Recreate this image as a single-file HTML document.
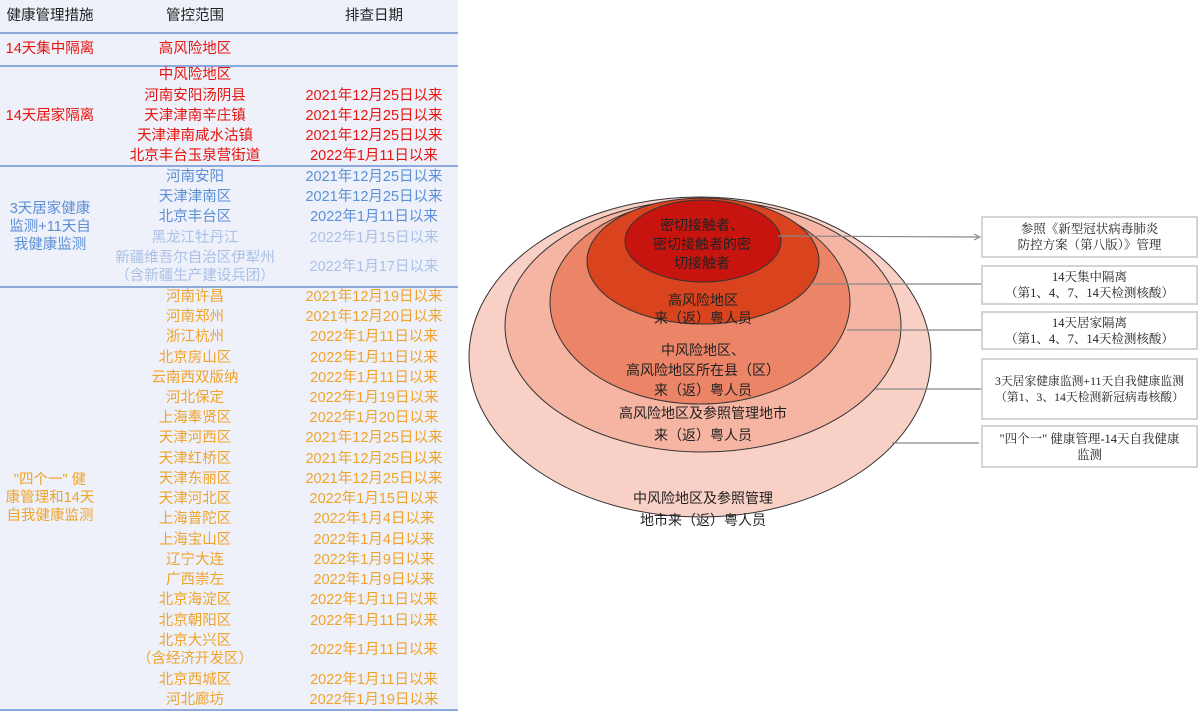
<!DOCTYPE html>
<html><head><meta charset="utf-8">
<style>
*{margin:0;padding:0;box-sizing:border-box}
html,body{width:1200px;height:711px;overflow:hidden;background:#fff}
body{position:relative;font-family:"Liberation Sans","Noto Sans CJK SC",sans-serif}
#panel{position:absolute;left:0;top:0;width:458px;height:711px;background:#eef1fa}
.hl{position:absolute;left:0;width:458px;height:1.5px;background:#8eaadb}
.t{position:absolute;white-space:nowrap;font-size:14.5px;line-height:20px;transform:translate(-50%,-50%)}
.c1{left:50px}.c2{left:195px}.c3{left:374px}
.h{color:#222}.r{color:#e8140f}.b{color:#5b8fd6}.lb{color:#aac0e6}.o{color:#f0a32a}
.box{position:absolute;left:981px;width:217px;border:2px solid #d4d4d4;background:#fff;font-family:"Liberation Serif","Noto Serif CJK SC",serif;font-size:12.5px;line-height:16px;color:#222;text-align:center;display:flex;align-items:center;justify-content:center}
svg text{font-family:"Liberation Sans","Noto Sans CJK SC",sans-serif;font-size:14px;fill:#222;text-anchor:middle}
</style></head><body>
<div id="panel"></div>
<div class="hl" style="top:32px"></div>
<div class="hl" style="top:65px"></div>
<div class="hl" style="top:165px"></div>
<div class="hl" style="top:286px"></div>
<div class="hl" style="top:709px"></div>

<div class="t c1 h" style="top:16px">健康管理措施</div>
<div class="t c2 h" style="top:16px">管控范围</div>
<div class="t c3 h" style="top:16px">排查日期</div>

<div class="t c1 r" style="top:49px">14天集中隔离</div>
<div class="t c2 r" style="top:49px">高风险地区</div>

<div class="t c1 r" style="top:116px">14天居家隔离</div>
<div class="t c2 r" style="top:75px">中风险地区</div>
<div class="t c2 r" style="top:96px">河南安阳汤阴县</div>
<div class="t c2 r" style="top:116px">天津津南辛庄镇</div>
<div class="t c2 r" style="top:136px">天津津南咸水沽镇</div>
<div class="t c2 r" style="top:156px">北京丰台玉泉营街道</div>
<div class="t c3 r" style="top:96px">2021年12月25日以来</div>
<div class="t c3 r" style="top:116px">2021年12月25日以来</div>
<div class="t c3 r" style="top:136px">2021年12月25日以来</div>
<div class="t c3 r" style="top:156px">2022年1月11日以来</div>

<div class="t c1 b" style="top:227px;line-height:18px;text-align:center">3天居家健康<br>监测+11天自<br>我健康监测</div>
<div class="t c2 b" style="top:177px">河南安阳</div>
<div class="t c2 b" style="top:197px">天津津南区</div>
<div class="t c2 b" style="top:217px">北京丰台区</div>
<div class="t c2 lb" style="top:238px">黑龙江牡丹江</div>
<div class="t c2 lb" style="top:267px;line-height:18px;text-align:center">新疆维吾尔自治区伊犁州<br>（含新疆生产建设兵团）</div>
<div class="t c3 b" style="top:177px">2021年12月25日以来</div>
<div class="t c3 b" style="top:197px">2021年12月25日以来</div>
<div class="t c3 b" style="top:217px">2022年1月11日以来</div>
<div class="t c3 lb" style="top:238px">2022年1月15日以来</div>
<div class="t c3 lb" style="top:267px">2022年1月17日以来</div>

<div class="t c1 o" style="top:498px;line-height:18px;text-align:center">"四个一" 健<br>康管理和14天<br>自我健康监测</div>
<div class="t c2 o" style="top:297px">河南许昌</div><div class="t c3 o" style="top:297px">2021年12月19日以来</div>
<div class="t c2 o" style="top:317px">河南郑州</div><div class="t c3 o" style="top:317px">2021年12月20日以来</div>
<div class="t c2 o" style="top:337px">浙江杭州</div><div class="t c3 o" style="top:337px">2022年1月11日以来</div>
<div class="t c2 o" style="top:358px">北京房山区</div><div class="t c3 o" style="top:358px">2022年1月11日以来</div>
<div class="t c2 o" style="top:378px">云南西双版纳</div><div class="t c3 o" style="top:378px">2022年1月11日以来</div>
<div class="t c2 o" style="top:398px">河北保定</div><div class="t c3 o" style="top:398px">2022年1月19日以来</div>
<div class="t c2 o" style="top:418px">上海奉贤区</div><div class="t c3 o" style="top:418px">2022年1月20日以来</div>
<div class="t c2 o" style="top:438px">天津河西区</div><div class="t c3 o" style="top:438px">2021年12月25日以来</div>
<div class="t c2 o" style="top:459px">天津红桥区</div><div class="t c3 o" style="top:459px">2021年12月25日以来</div>
<div class="t c2 o" style="top:479px">天津东丽区</div><div class="t c3 o" style="top:479px">2021年12月25日以来</div>
<div class="t c2 o" style="top:499px">天津河北区</div><div class="t c3 o" style="top:499px">2022年1月15日以来</div>
<div class="t c2 o" style="top:519px">上海普陀区</div><div class="t c3 o" style="top:519px">2022年1月4日以来</div>
<div class="t c2 o" style="top:540px">上海宝山区</div><div class="t c3 o" style="top:540px">2022年1月4日以来</div>
<div class="t c2 o" style="top:560px">辽宁大连</div><div class="t c3 o" style="top:560px">2022年1月9日以来</div>
<div class="t c2 o" style="top:580px">广西崇左</div><div class="t c3 o" style="top:580px">2022年1月9日以来</div>
<div class="t c2 o" style="top:600px">北京海淀区</div><div class="t c3 o" style="top:600px">2022年1月11日以来</div>
<div class="t c2 o" style="top:621px">北京朝阳区</div><div class="t c3 o" style="top:621px">2022年1月11日以来</div>
<div class="t c2 o" style="top:650px;line-height:18px;text-align:center">北京大兴区<br>（含经济开发区）</div><div class="t c3 o" style="top:650px">2022年1月11日以来</div>
<div class="t c2 o" style="top:680px">北京西城区</div><div class="t c3 o" style="top:680px">2022年1月11日以来</div>
<div class="t c2 o" style="top:700px">河北廊坊</div><div class="t c3 o" style="top:700px">2022年1月19日以来</div>

<svg width="1200" height="711" style="position:absolute;left:0;top:0">
<ellipse cx="700" cy="357" rx="231" ry="160" fill="#f9d0c5" stroke="#333" stroke-width="1"/>
<ellipse cx="703" cy="326" rx="198" ry="126" fill="#f6b5a3" stroke="#333" stroke-width="1"/>
<ellipse cx="700" cy="302" rx="150" ry="102" fill="#ec8468" stroke="#333" stroke-width="1"/>
<ellipse cx="703" cy="261" rx="116" ry="63" fill="#d9441f" stroke="#333" stroke-width="1"/>
<ellipse cx="703" cy="241" rx="78" ry="41" fill="#c8140e" stroke="#333" stroke-width="1"/>
<text x="702" y="230">密切接触者、</text>
<text x="702" y="249">密切接触者的密</text>
<text x="702" y="268">切接触者</text>
<text x="703" y="305">高风险地区</text>
<text x="703" y="323">来（返）粤人员</text>
<text x="703" y="355" font-size="15">中风险地区、</text>
<text x="703" y="375" font-size="15">高风险地区所在县（区）</text>
<text x="703" y="395" font-size="15">来（返）粤人员</text>
<text x="703" y="418" font-size="15">高风险地区及参照管理地市</text>
<text x="703" y="440" font-size="15">来（返）粤人员</text>
<text x="703" y="503" font-size="15">中风险地区及参照管理</text>
<text x="703" y="525" font-size="15">地市来（返）粤人员</text>
<g stroke="#888" stroke-width="1.2" fill="none">
<line x1="778" y1="236" x2="978" y2="237"/>
<line x1="811" y1="284" x2="981" y2="284"/>
<line x1="847" y1="330" x2="981" y2="330"/>
<line x1="875" y1="389" x2="981" y2="389"/>
<line x1="892" y1="443" x2="979" y2="443"/>
</g>
<path d="M974,234 L980,237 L974,240" stroke="#888" fill="none" stroke-width="1"/>
</svg>

<div class="box" style="top:216px;height:42px">参照《新型冠状病毒肺炎<br>防控方案（第八版）》管理</div>
<div class="box" style="top:265px;height:40px">14天集中隔离<br>（第1、4、7、14天检测核酸）</div>
<div class="box" style="top:311px;height:39px">14天居家隔离<br>（第1、4、7、14天检测核酸）</div>
<div class="box" style="top:358px;height:62px;font-size:11.8px">3天居家健康监测+11天自我健康监测<br>（第1、3、14天检测新冠病毒核酸）</div>
<div class="box" style="top:425px;height:43px">"四个一" 健康管理-14天自我健康<br>监测</div>
</body></html>
